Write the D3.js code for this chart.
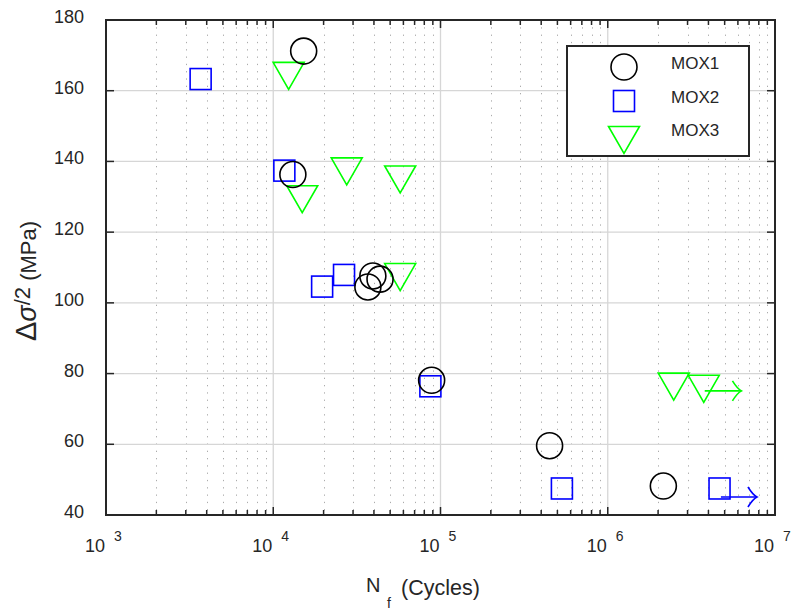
<!DOCTYPE html>
<html>
<head>
<meta charset="utf-8">
<script src="https://cdn.jsdelivr.net/npm/d3@7"></script>
<style>
  body { margin: 0; background: #fff; }
  svg text { font-family: "Liberation Sans", Arial, sans-serif; fill: #262626; }
</style>
</head>
<body>
<svg id="chart" width="796" height="613"></svg>
<script>
// Fatigue data: cycles to failure vs stress amplitude
var mox1N = [1.52e4, 1.31e4, 3.68e4, 3.94e4, 4.35e4, 8.85e4, 4.49e5, 2.15e6];
var mox1S = [171.2, 136.3, 104.5, 107.6, 106.7, 78.1, 59.6, 48.2];
var mox2N = [3.68e3, 1.165e4, 1.96e4, 2.65e4, 8.7e4, 5.32e5, 4.66e6];
var mox2S = [163.3, 137.4, 104.6, 107.9, 76.4, 47.5, 47.5];
var mox3N = [1.236e4, 1.49e4, 2.75e4, 5.74e4, 5.74e4, 2.48e6, 3.75e6];
var mox3S = [164.2, 129.3, 137.2, 134.9, 107.3, 76.3, 75.7];

// run-out arrows (MOX3, MOX2)
var runFrom = [3.8e6, 4.75e6];
var runTo = [6.3e6, 7.8e6];
var runS = [75.1, 45.1];
var runColor = ["#00ff00", "#0000ff"];

var yTicks = [40, 60, 80, 100, 120, 140, 160, 180];
var xDecades = [3, 4, 5, 6, 7];
var seriesNames = ["MOX1", "MOX2", "MOX3"];

var plotL = 106, plotR = 775, plotT = 20, plotB = 515;
var axisColor = "#262626";

var svg = d3.select("#chart");
var x = d3.scaleLog().domain([1e3, 1e7]).range([plotL, plotR]);
var y = d3.scaleLinear().domain([40, 180]).range([plotB, plotT]);

// minor x values
var minorX = [];
[3, 4, 5, 6].forEach(function(d) {
  for (var k = 2; k <= 9; k++) minorX.push(k * Math.pow(10, d));
});

// Grid
var grid = svg.append("g");
grid.selectAll(".minor").data(minorX).enter().append("line")
  .attr("x1", d => Math.round(x(d)) + 0.5).attr("x2", d => Math.round(x(d)) + 0.5)
  .attr("y1", plotT).attr("y2", plotB)
  .attr("stroke", "#acacac").attr("stroke-width", 1)
  .attr("stroke-dasharray", "1.3,6");
grid.selectAll(".majx").data(xDecades.slice(1, -1)).enter().append("line")
  .attr("x1", d => x(Math.pow(10, d))).attr("x2", d => x(Math.pow(10, d)))
  .attr("y1", plotT).attr("y2", plotB)
  .attr("stroke", "#d6d6d6").attr("stroke-width", 1.3);
grid.selectAll(".majy").data(yTicks.slice(1, -1)).enter().append("line")
  .attr("x1", plotL).attr("x2", plotR)
  .attr("y1", d => y(d)).attr("y2", d => y(d))
  .attr("stroke", "#d6d6d6").attr("stroke-width", 1.3);

// Ticks (inside, all four sides)
var ticks = svg.append("g").attr("stroke", axisColor).attr("stroke-width", 1.5);
minorX.forEach(function(v) {
  ticks.append("line").attr("x1", x(v)).attr("x2", x(v)).attr("y1", plotB).attr("y2", plotB - 5);
  ticks.append("line").attr("x1", x(v)).attr("x2", x(v)).attr("y1", plotT).attr("y2", plotT + 5);
});
xDecades.forEach(function(d) {
  var v = Math.pow(10, d);
  ticks.append("line").attr("x1", x(v)).attr("x2", x(v)).attr("y1", plotB).attr("y2", plotB - 8);
  ticks.append("line").attr("x1", x(v)).attr("x2", x(v)).attr("y1", plotT).attr("y2", plotT + 8);
});
yTicks.forEach(function(v) {
  ticks.append("line").attr("x1", plotL).attr("x2", plotL + 8).attr("y1", y(v)).attr("y2", y(v));
  ticks.append("line").attr("x1", plotR).attr("x2", plotR - 8).attr("y1", y(v)).attr("y2", y(v));
});

// Y tick labels
svg.append("g").selectAll("text").data(yTicks).enter().append("text")
  .attr("x", 84).attr("y", d => y(d) + 3)
  .attr("text-anchor", "end").attr("font-size", 18)
  .text(d => d);

// X tick labels 10^n
var xl = svg.append("g").selectAll("g").data(xDecades).enter().append("g");
xl.append("text")
  .attr("x", d => x(Math.pow(10, d)) - 1).attr("y", 552)
  .attr("text-anchor", "end").attr("font-size", 18)
  .text("10");
xl.append("text")
  .attr("x", d => x(Math.pow(10, d)) + 8).attr("y", 541)
  .attr("font-size", 14)
  .text(d => d);

// Axis labels
svg.append("text").attr("x", 366).attr("y", 592).attr("font-size", 20).text("N");
svg.append("text").attr("x", 387).attr("y", 608).attr("font-size", 14).text("f");
svg.append("text").attr("x", 401).attr("y", 595).attr("font-size", 21.5).text("(Cycles)");

var ylab = svg.append("text")
  .attr("transform", "translate(36,281) rotate(-90)")
  .attr("text-anchor", "middle");
ylab.append("tspan").attr("font-size", 29).text("Δ");
ylab.append("tspan").attr("font-size", 27).attr("font-style", "italic").text("σ");
ylab.append("tspan").attr("font-size", 22).attr("dy", -6).text("/2");
ylab.append("tspan").attr("font-size", 22).attr("dy", 6).text(" (MPa)");

// Markers
function triPath(cx, cy) {
  var w = 15.5, h = 13.5;
  return "M" + (cx - w) + "," + (cy - h) + "L" + (cx + w) + "," + (cy - h) + "L" + cx + "," + (cy + h) + "Z";
}

var marks = svg.append("g").attr("fill", "none").attr("stroke-width", 1.6);

marks.selectAll(".tri").data(mox3N).enter().append("path")
  .attr("d", (d, i) => triPath(x(d), y(mox3S[i])))
  .attr("stroke", "#00ff00").attr("stroke-linejoin", "miter");

marks.selectAll(".sq").data(mox2N).enter().append("rect")
  .attr("x", d => x(d) - 10.5).attr("y", (d, i) => y(mox2S[i]) - 10.5)
  .attr("width", 21).attr("height", 21)
  .attr("stroke", "#0000ff");

marks.selectAll(".circ").data(mox1N).enter().append("circle")
  .attr("cx", d => x(d)).attr("cy", (d, i) => y(mox1S[i]))
  .attr("r", 13)
  .attr("stroke", "#000");

// Run-out arrows
runFrom.forEach(function(v, i) {
  var x0 = x(v), x1 = x(runTo[i]), yy = y(runS[i]);
  var g = svg.append("g").attr("stroke", runColor[i]).attr("stroke-width", 1.6).attr("fill", "none");
  g.append("line").attr("x1", x0).attr("x2", x1).attr("y1", yy).attr("y2", yy);
  g.append("path").attr("d",
    "M" + (x1 - 9) + "," + (yy - 10) +
    "Q" + (x1 - 4) + "," + (yy - 2) + " " + x1 + "," + yy +
    "Q" + (x1 - 4) + "," + (yy + 2) + " " + (x1 - 9) + "," + (yy + 10));
});

// Axes box
svg.append("rect")
  .attr("x", plotL).attr("y", plotT)
  .attr("width", plotR - plotL).attr("height", plotB - plotT)
  .attr("fill", "none").attr("stroke", axisColor).attr("stroke-width", 2);

// Legend
var leg = svg.append("g");
leg.append("rect").attr("x", 567).attr("y", 46).attr("width", 182).attr("height", 110)
  .attr("fill", "#fff").attr("stroke", axisColor).attr("stroke-width", 2);
var rowY = [67, 101, 140];
leg.append("circle").attr("cx", 624).attr("cy", rowY[0]).attr("r", 13)
  .attr("fill", "none").attr("stroke", "#000").attr("stroke-width", 1.6);
leg.append("rect").attr("x", 613.5).attr("y", rowY[1] - 10.5).attr("width", 21).attr("height", 21)
  .attr("fill", "none").attr("stroke", "#0000ff").attr("stroke-width", 1.6);
leg.append("path").attr("d", triPath(624, rowY[2]))
  .attr("fill", "none").attr("stroke", "#00ff00").attr("stroke-width", 1.6);
leg.selectAll(".lt").data(seriesNames).enter().append("text")
  .attr("x", 671).attr("y", (d, i) => [69, 103, 136][i])
  .attr("font-size", 17)
  .text(d => d);
</script>
</body>
</html>
